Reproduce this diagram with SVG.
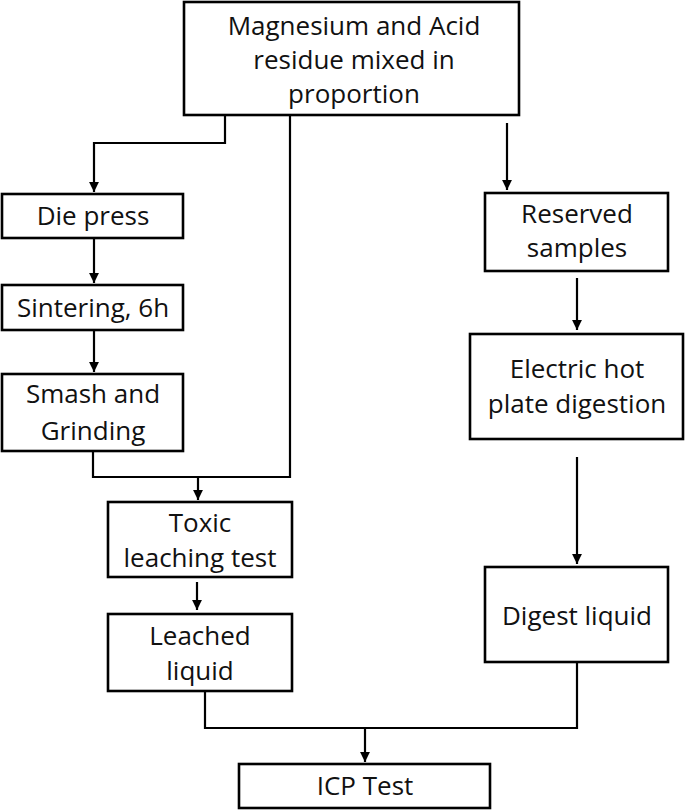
<svg xmlns="http://www.w3.org/2000/svg" width="685" height="810" viewBox="0 0 685 810">
<defs>
<marker id="ah" viewBox="0 0 10 10" refX="10" refY="5" markerWidth="4.5" markerHeight="5" markerUnits="strokeWidth" orient="auto">
<path d="M0,0 L10,5 L0,10 z" fill="#000"/>
</marker>
<style>
.box{fill:#fff;stroke:#000;stroke-width:2.6}
.t{font-family:"Open Sans","Liberation Sans",sans-serif;font-size:26px;fill:#111;text-anchor:middle}
.c{fill:none;stroke:#000;stroke-width:2.2}
</style>
</defs>
<rect width="685" height="810" fill="#fff"/>
<g id="connectors">
<path class="c" d="M225,116 V143 H94 V192" marker-end="url(#ah)"/>
<path class="c" d="M94,238 V283" marker-end="url(#ah)"/>
<path class="c" d="M94,330 V372" marker-end="url(#ah)"/>
<path class="c" d="M93,451 V477 H290 V116"/>
<path class="c" d="M198,477 V500" marker-end="url(#ah)"/>
<path class="c" d="M197,582 V610" marker-end="url(#ah)"/>
<path class="c" d="M507,123 V190" marker-end="url(#ah)"/>
<path class="c" d="M577,278 V330" marker-end="url(#ah)"/>
<path class="c" d="M577,457 V564" marker-end="url(#ah)"/>
<path class="c" d="M205,691 V728 H577 V662"/>
<path class="c" d="M365,728 V762" marker-end="url(#ah)"/>
</g>
<g id="mix">
<rect class="box" x="184" y="2" width="335" height="113"/>
<text class="t" x="354" y="35">Magnesium and Acid</text>
<text class="t" x="354" y="69">residue mixed in</text>
<text class="t" x="354" y="103">proportion</text>
</g>
<g id="diepress">
<rect class="box" x="2" y="194" width="181" height="44"/>
<text class="t" x="93" y="225">Die press</text>
</g>
<g id="sintering">
<rect class="box" x="2" y="285" width="181" height="45"/>
<text class="t" x="93" y="317">Sintering, 6h</text>
</g>
<g id="smash">
<rect class="box" x="2" y="374" width="181" height="77"/>
<text class="t" x="93" y="403">Smash and</text>
<text class="t" x="93" y="440">Grinding</text>
</g>
<g id="toxic">
<rect class="box" x="108" y="502" width="184" height="75"/>
<text class="t" x="200" y="532">Toxic</text>
<text class="t" x="200" y="567">leaching test</text>
</g>
<g id="leached">
<rect class="box" x="108" y="614" width="184" height="77"/>
<text class="t" x="200" y="645">Leached</text>
<text class="t" x="200" y="680">liquid</text>
</g>
<g id="reserved">
<rect class="box" x="485" y="193" width="183" height="78"/>
<text class="t" x="577" y="223">Reserved</text>
<text class="t" x="577" y="257">samples</text>
</g>
<g id="electric">
<rect class="box" x="470" y="334" width="213" height="105"/>
<text class="t" x="577" y="378">Electric hot</text>
<text class="t" x="577" y="413">plate digestion</text>
</g>
<g id="digest">
<rect class="box" x="485" y="567" width="183" height="95"/>
<text class="t" x="577" y="625">Digest liquid</text>
</g>
<g id="icp">
<rect class="box" x="239" y="764" width="251" height="44"/>
<text class="t" x="365" y="795">ICP Test</text>
</g>
</svg>
